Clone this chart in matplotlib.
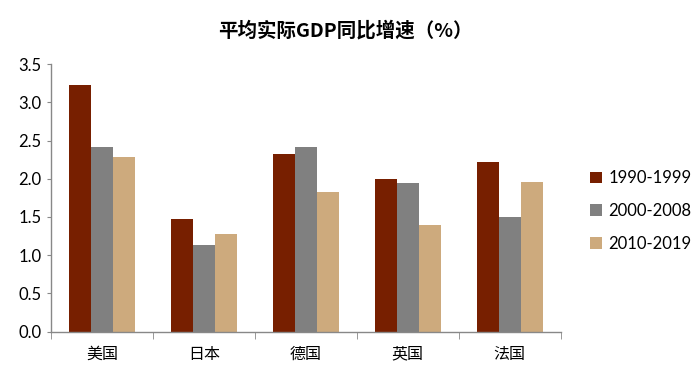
import matplotlib
matplotlib.use("Agg")
import matplotlib.pyplot as plt
import numpy as np

plt.rcParams['font.family'] = ['Lato', 'Noto Sans CJK SC', 'DejaVu Sans']

categories = ["美国", "日本", "德国", "英国", "法国"]
series_names = ["1990-1999", "2000-2008", "2010-2019"]
v1990 = [3.22, 1.48, 2.33, 2.00, 2.22]
v2000 = [2.41, 1.14, 2.42, 1.95, 1.50]
v2010 = [2.29, 1.28, 1.83, 1.39, 1.96]
colors = ["#771F00", "#808080", "#CDAA7D"]
yticks = [0.0, 0.5, 1.0, 1.5, 2.0, 2.5, 3.0, 3.5]

fig = plt.figure(figsize=(7.0, 3.78), dpi=100)
ax = fig.add_axes([0.073, 0.1225, 0.728, 0.708])

x = np.arange(len(categories))
w = 0.216
for i, (vals, name, c) in enumerate(zip([v1990, v2000, v2010], series_names, colors)):
    ax.bar(x + (i - 1) * w, vals, width=w, color=c, label=name, edgecolor='none')

ax.set_xlim(-0.5, len(categories) - 0.5)
ax.set_ylim(0, 3.5)
ax.set_yticks(yticks)
ax.set_yticklabels([f"{t:.1f}" for t in yticks], fontsize=12)
ax.set_xticks(x)
ax.set_xticklabels(categories, fontsize=11.5, family=['Noto Sans CJK SC'])
ax.set_xticks(np.arange(-0.5, len(categories), 1.0), minor=True)
ax.tick_params(axis='x', which='major', length=0, pad=10)
ax.tick_params(axis='x', which='minor', length=5, color='#888888', direction='out')
ax.tick_params(axis='y', length=3, color='#888888', pad=4)
for s in ['top', 'right']:
    ax.spines[s].set_visible(False)
for s in ['left', 'bottom']:
    ax.spines[s].set_color('#888888')
    ax.spines[s].set_linewidth(1.0)

fig.text(0.493, 0.918, "平均实际GDP同比增速（%）", ha='center', va='center',
         fontsize=14, fontweight='bold', family=['Noto Sans CJK SC'])

leg = fig.legend(loc='center left', bbox_to_anchor=(0.843, 0.442), frameon=False,
                 fontsize=12, handlelength=0.7, handleheight=0.7, handletextpad=0.4,
                 labelspacing=1.0, borderaxespad=0, borderpad=0)

fig.savefig("out.png", dpi=100)
